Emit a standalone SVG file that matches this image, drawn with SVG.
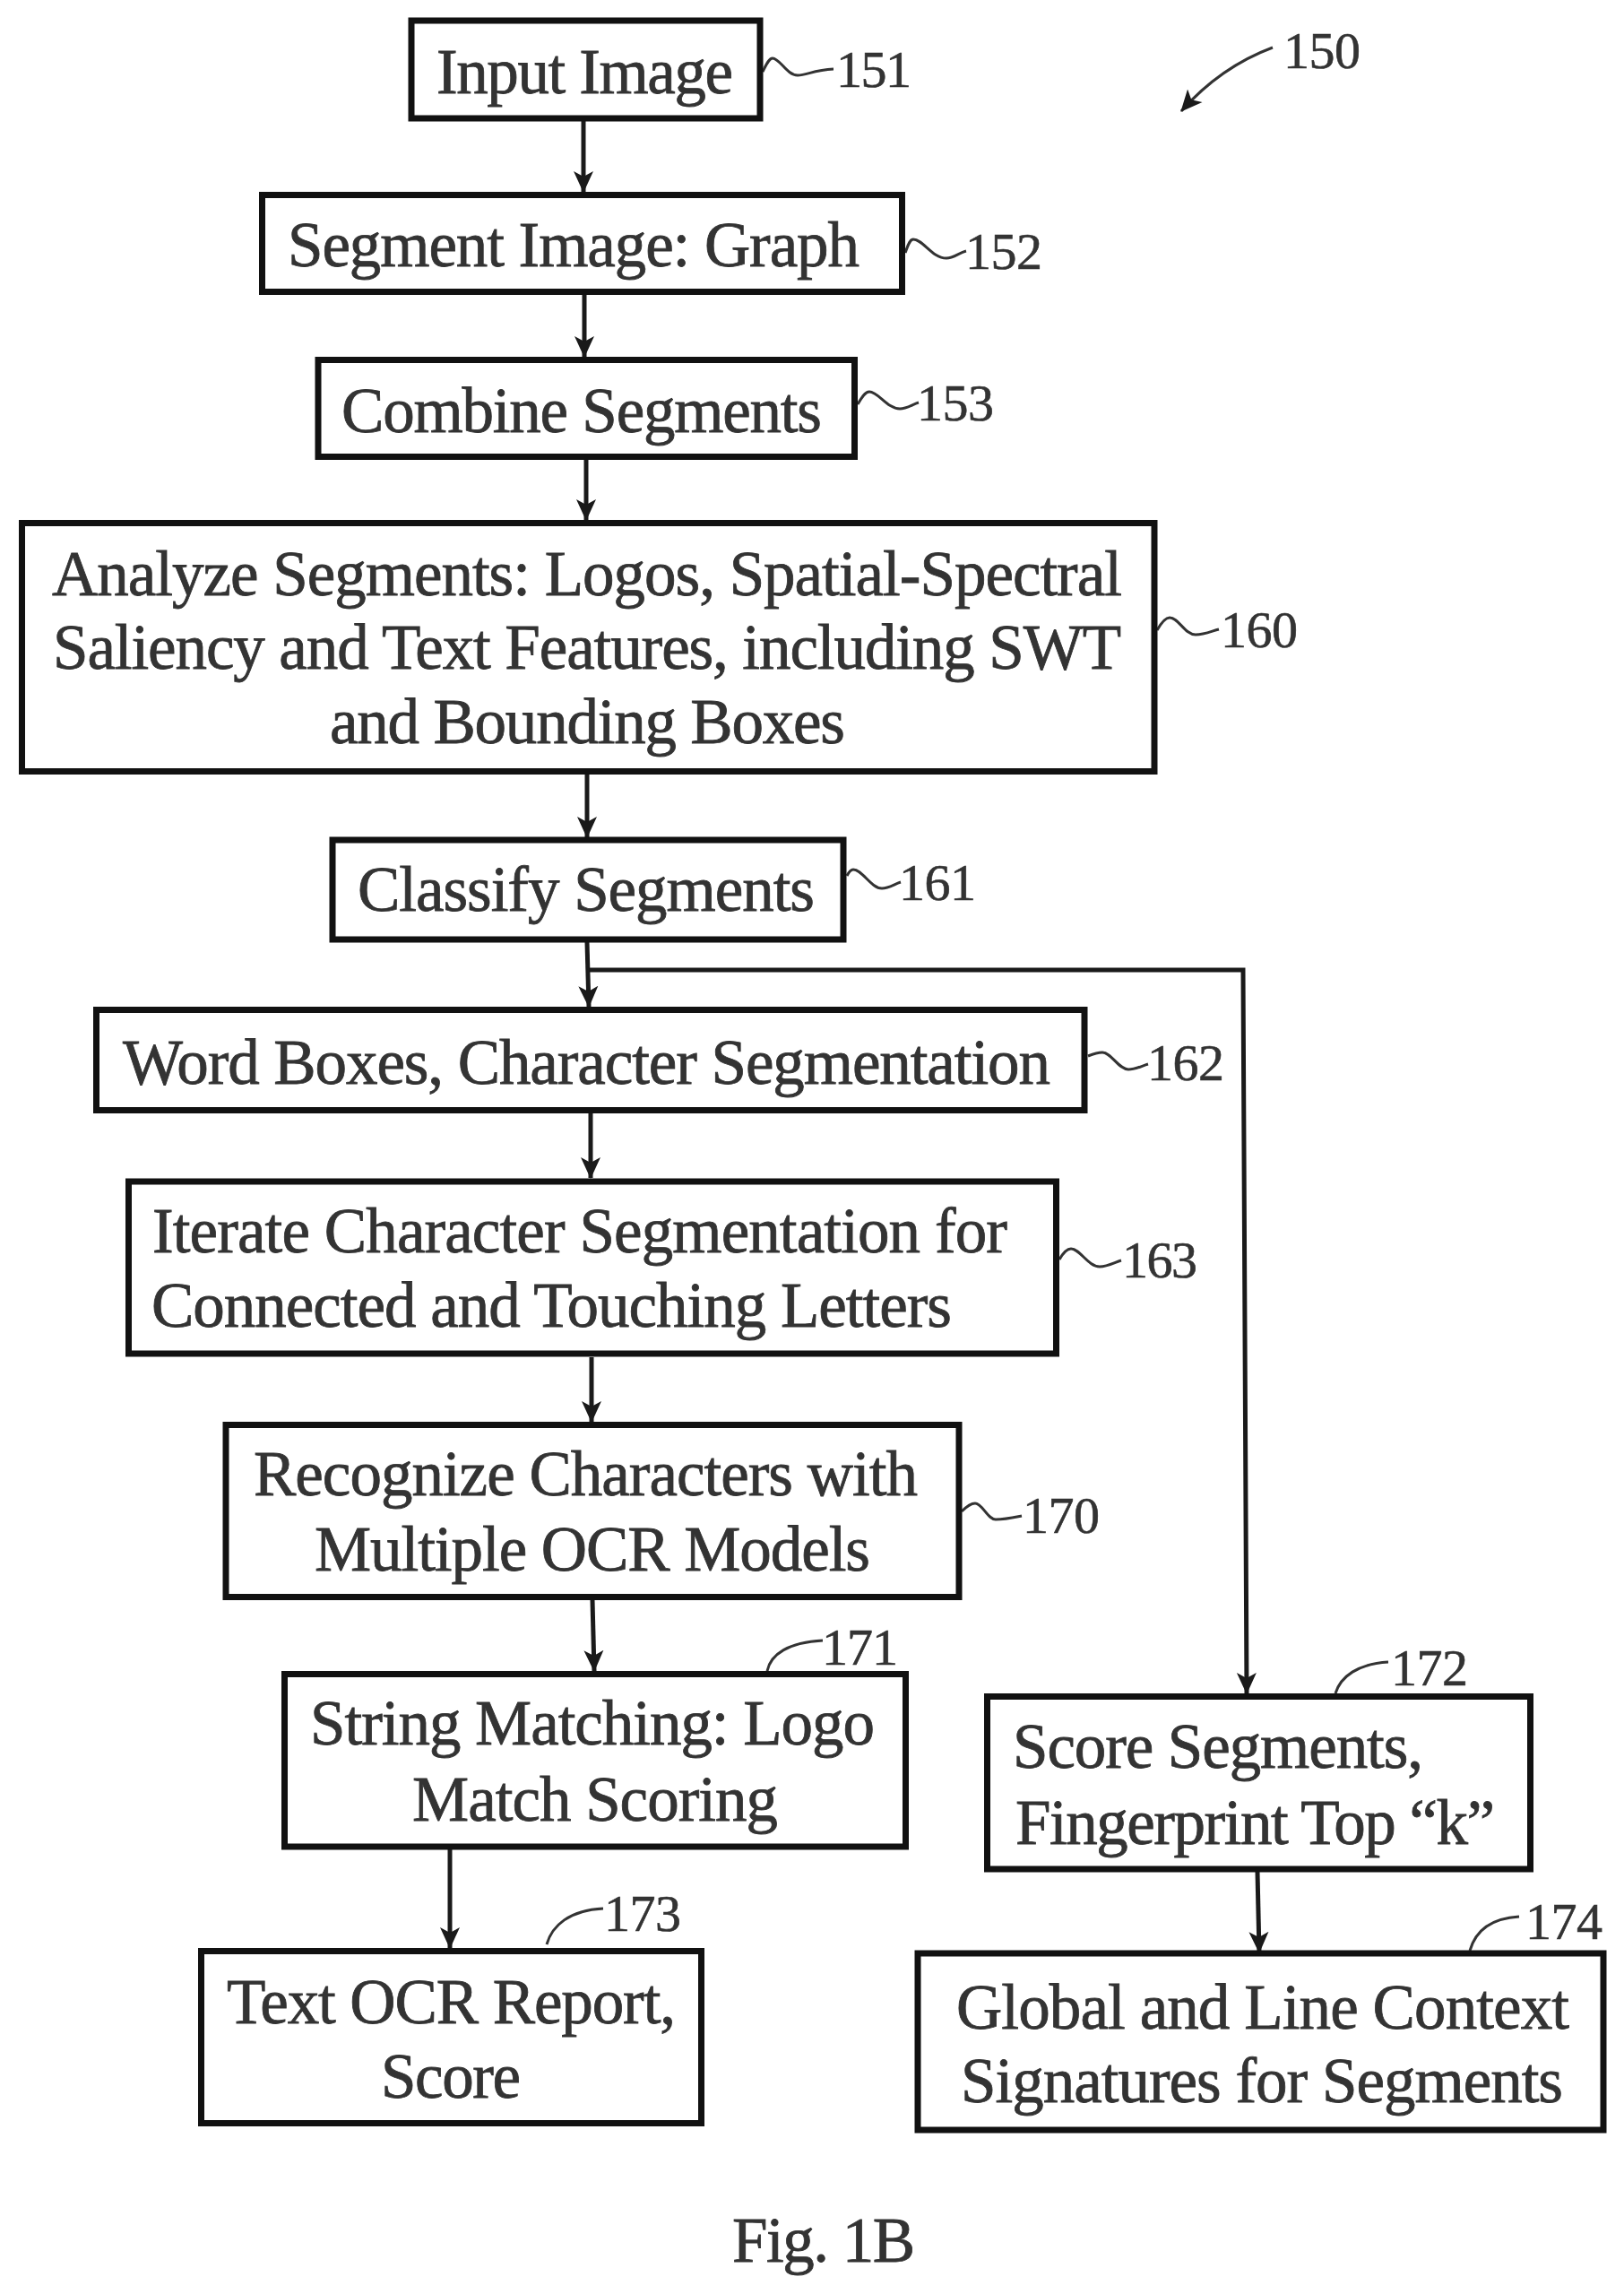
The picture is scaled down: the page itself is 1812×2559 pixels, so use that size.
<svg xmlns="http://www.w3.org/2000/svg" width="1812" height="2559" viewBox="0 0 1812 2559">
<style>
.b{fill:#fff;stroke:#111;stroke-width:7}
.t{font-family:"Liberation Serif","Times New Roman",serif;font-size:71px;fill:#333;stroke:#333;stroke-width:.8}
.r{font-family:"Liberation Serif","Times New Roman",serif;font-size:58px;fill:#333;stroke:#333;stroke-width:.6}
.c{fill:none;stroke:#1a1a1a;stroke-width:5}
.l{fill:none;stroke:#333;stroke-width:3}
</style>
<defs>
<marker id="a" markerUnits="userSpaceOnUse" markerWidth="24" markerHeight="24" viewBox="0 0 24 24" refX="23" refY="12" orient="auto"><path d="M0 1L24 12L0 23L6 12Z" fill="#1a1a1a"/></marker>
</defs>
<rect width="1812" height="2559" fill="#fff"/>
<g id="connectors">
<path class="c" marker-end="url(#a)" d="M651 135V214"/>
<path class="c" marker-end="url(#a)" d="M652 329V398"/>
<path class="c" marker-end="url(#a)" d="M654 513V580"/>
<path class="c" marker-end="url(#a)" d="M655 864V934"/>
<path class="c" marker-end="url(#a)" d="M655 1051L657 1123"/>
<path class="c" marker-end="url(#a)" d="M659 1242V1314"/>
<path class="c" marker-end="url(#a)" d="M660 1514V1586"/>
<path class="c" marker-end="url(#a)" d="M661 1785L663 1864"/>
<path class="c" marker-end="url(#a)" d="M502 2063V2173"/>
<path class="c" marker-end="url(#a)" d="M1403 2088L1405 2178"/>
<path class="c" marker-end="url(#a)" d="M657 1082H1387L1391 1889"/>
<path class="l" marker-end="url(#a)" d="M1420 53C1385 66 1350 88 1318 124"/>
</g>
<g id="leaders">
<path class="l" d="M851 80C855 72 858 65 862 65C870 65 878 84 890 84C900 84 908 78 930 77"/>
<path class="l" d="M1010 282C1013 274 1015 267 1019 267C1030 267 1040 288 1056 288C1064 288 1070 282 1078 280"/>
<path class="l" d="M957 451C961 444 965 437 970 437C980 437 990 456 1004 456C1012 456 1018 451 1025 449"/>
<path class="l" d="M1291 703C1295 696 1300 689 1305 689C1315 689 1322 708 1334 708C1344 708 1352 704 1360 702"/>
<path class="l" d="M945 977C947 973 949 970 952 970C962 970 972 991 984 991C992 991 998 986 1005 984"/>
<path class="l" d="M1214 1178C1219 1176 1224 1174 1230 1174C1240 1174 1248 1193 1259 1193C1267 1193 1274 1189 1281 1187"/>
<path class="l" d="M1182 1405C1186 1398 1190 1393 1195 1393C1205 1393 1214 1413 1227 1413C1236 1413 1244 1408 1251 1406"/>
<path class="l" d="M1073 1686C1078 1681 1083 1677 1088 1677C1096 1677 1102 1695 1111 1695C1121 1695 1130 1693 1140 1691"/>
<path class="l" d="M856 1864C860 1845 880 1832 918 1830"/>
<path class="l" d="M1490 1889C1496 1870 1515 1856 1549 1854"/>
<path class="l" d="M610 2169C616 2148 635 2131 673 2129"/>
<path class="l" d="M1640 2176C1646 2155 1662 2140 1695 2138"/>
</g>
<g id="n151"><rect class="b" x="459" y="23" width="389" height="109"/><text class="t" x="487" y="104" textLength="331">Input Image</text><text class="r" x="933" y="97" textLength="84">151</text></g>
<g id="n152"><rect class="b" x="292.500" y="217.500" width="714" height="108"/><text class="t" x="321" y="297" textLength="638">Segment Image: Graph</text><text class="r" x="1077" y="300" textLength="86">152</text></g>
<g id="n153"><rect class="b" x="355" y="401.500" width="598.500" height="108"/><text class="t" x="381" y="482" textLength="536">Combine Segments</text><text class="r" x="1023" y="469" textLength="86">153</text></g>
<g id="n160"><rect class="b" x="24.500" y="583.500" width="1263.500" height="277"/><text class="t" x="58" y="664" textLength="1194">Analyze Segments: Logos, Spatial-Spectral</text><text class="t" x="59" y="746" textLength="1192">Saliency and Text Features, including SWT</text><text class="t" x="368" y="829" textLength="575">and Bounding Boxes</text><text class="r" x="1362" y="722" textLength="86">160</text></g>
<g id="n161"><rect class="b" x="371" y="937" width="570" height="111"/><text class="t" x="399" y="1016" textLength="510">Classify Segments</text><text class="r" x="1003" y="1004" textLength="86">161</text></g>
<g id="n162"><rect class="b" x="107.500" y="1126.500" width="1102.500" height="112"/><text class="t" x="137" y="1209" textLength="1035">Word Boxes, Character Segmentation</text><text class="r" x="1280" y="1205" textLength="86">162</text></g>
<g id="n163"><rect class="b" x="143.500" y="1318" width="1035" height="192"/><text class="t" x="170" y="1397" textLength="954">Iterate Character Segmentation for</text><text class="t" x="169" y="1480" textLength="893">Connected and Touching Letters</text><text class="r" x="1252" y="1425" textLength="84">163</text></g>
<g id="n170"><rect class="b" x="252" y="1589.500" width="818" height="192"/><text class="t" x="283" y="1668" textLength="741">Recognize Characters with</text><text class="t" x="351" y="1752" textLength="620">Multiple OCR Models</text><text class="r" x="1141" y="1710" textLength="86">170</text></g>
<g id="n171"><rect class="b" x="317.500" y="1867.500" width="693" height="192.500"/><text class="t" x="346" y="1946" textLength="630">String Matching: Logo</text><text class="t" x="460" y="2031" textLength="408">Match Scoring</text><text class="r" x="917" y="1857" textLength="85">171</text></g>
<g id="n173"><rect class="b" x="224.500" y="2176.500" width="558" height="192"/><text class="t" x="253" y="2257" textLength="501">Text OCR Report,</text><text class="t" x="425" y="2340" textLength="156">Score</text><text class="r" x="674" y="2154" textLength="86">173</text></g>
<g id="n172"><rect class="b" x="1101.500" y="1892.500" width="606" height="192.500"/><text class="t" x="1130" y="1972" textLength="458">Score Segments,</text><text class="t" x="1133" y="2057" textLength="535">Fingerprint Top “k”</text><text class="r" x="1552" y="1880" textLength="86">172</text></g>
<g id="n174"><rect class="b" x="1024" y="2179" width="765" height="197"/><text class="t" x="1067" y="2263" textLength="684">Global and Line Context</text><text class="t" x="1072" y="2345" textLength="672">Signatures for Segments</text><text class="r" x="1702" y="2163" textLength="86">174</text></g>
<text id="fig" class="t" x="817" y="2523" textLength="204">Fig. 1B</text>
<text id="r150" class="r" x="1432" y="76" textLength="86">150</text>
</svg>
